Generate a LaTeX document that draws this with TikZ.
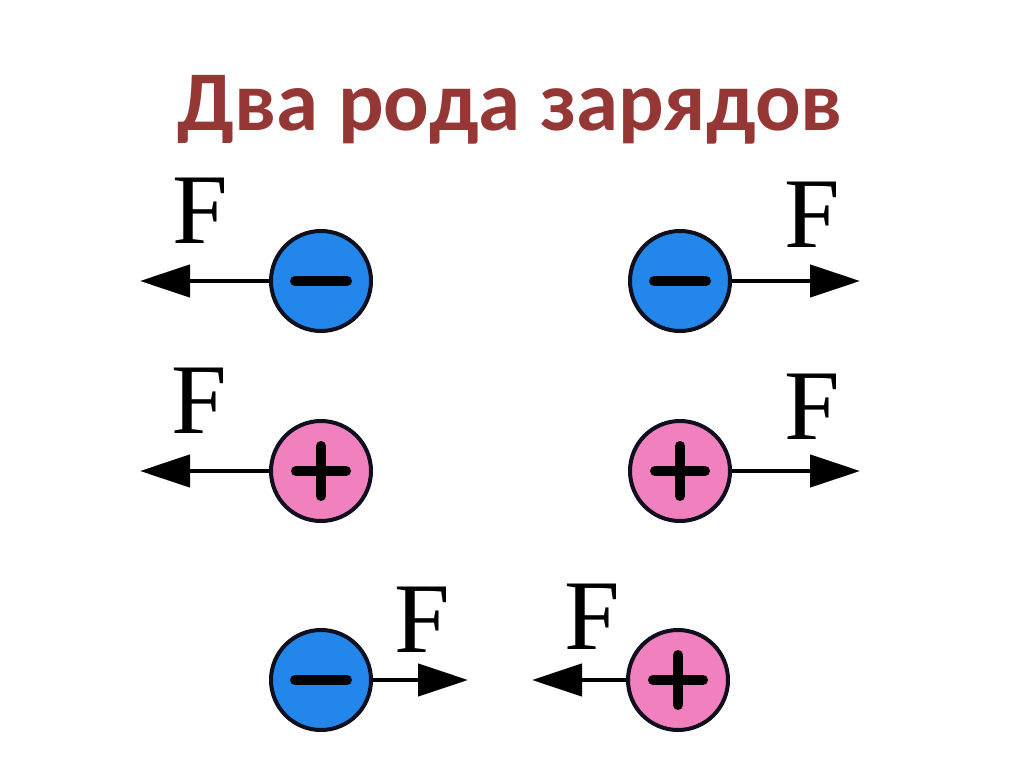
\documentclass[tikz,border=0pt]{standalone}
\usepackage{fontspec}
\setmainfont{Liberation Serif}
\newfontfamily\titlefont{Carlito}
\usetikzlibrary{arrows.meta}
\definecolor{titlered}{RGB}{149,55,53}
\definecolor{negblue}{RGB}{34,134,234}
\definecolor{pospink}{RGB}{240,128,190}
\definecolor{outl}{RGB}{15,15,30}
\tikzset{
  charge/.style={circle, draw=outl, line width=4pt, minimum size=100pt, inner sep=0pt},
  negcharge/.style={charge, fill=negblue},
  poscharge/.style={charge, fill=pospink},
  force/.style={line width=4.5pt, -{Triangle[length=50pt,width=32pt]}},
  sign/.style={line width=10pt, line cap=round, draw=black},
  flabel/.style={inner sep=0pt, font=\fontsize{100}{104}\selectfont},
  title/.style={inner sep=0pt, anchor=base, text=titlered, font=\titlefont\bfseries\fontsize{85}{95}\selectfont}
}
\begin{document}
\begin{tikzpicture}[x=1pt,y=-1pt]
\path[use as bounding box, fill=white] (0,0) rectangle (1024,767);
\node[title] (t) at (510,131) {Два рода зарядов};
% row 1
\node[negcharge] (a) at (321,281) {};
\node[negcharge] (b) at (680,281) {};
% row 2
\node[poscharge] (c) at (321,471) {};
\node[poscharge] (d) at (680,471) {};
% row 3
\node[negcharge] (e) at (321,680) {};
\node[poscharge] (f) at (678,680) {};
% signs
\draw[sign] (a) ++(-26,0) -- ++(52,0);
\draw[sign] (b) ++(-26,0) -- ++(52,0);
\draw[sign] (e) ++(-26,0) -- ++(52,0);
\draw[sign] (c) ++(-25,0) -- ++(50,0) (c) ++(0,-25) -- ++(0,50);
\draw[sign] (d) ++(-25,0) -- ++(50,0) (d) ++(0,-25) -- ++(0,50);
\draw[sign] (f) ++(-25,0) -- ++(50,0) (f) ++(0,-25) -- ++(0,50);
% arrow ends
\coordinate (aa) at (140,281);
\coordinate (bb) at (860,281);
\coordinate (cc) at (140,471);
\coordinate (dd) at (860,471);
\coordinate (ee) at (468,680);
\coordinate (ff) at (532,680);
\draw[force] (a.west) -- (aa);
\draw[force] (b.east) -- (bb);
\draw[force] (c.west) -- (cc);
\draw[force] (d.east) -- (dd);
\draw[force] (e.east) -- (ee);
\draw[force] (f.west) -- (ff);
% labels
\node[flabel] (fa) at (200,211) {F};
\node[flabel] (fb) at (812,215) {F};
\node[flabel] (fc) at (199,401) {F};
\node[flabel] (fd) at (812,407) {F};
\node[flabel] (fe) at (422,620) {F};
\node[flabel] (ff2) at (592,617) {F};
\end{tikzpicture}
\end{document}
